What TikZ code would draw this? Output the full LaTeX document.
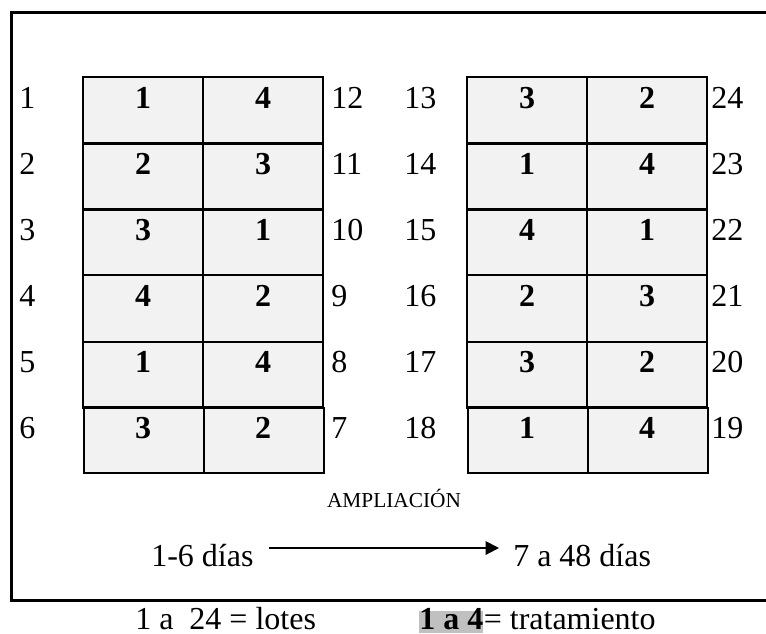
\documentclass[tikz,border=0pt]{standalone}
\usepackage{fontspec}
\setmainfont{Liberation Serif}
\usetikzlibrary{arrows.meta}
\definecolor{celda}{HTML}{F2F2F2}
\definecolor{resalte}{HTML}{C0C0C0}
\newcommand\cifra[1]{{\fontsize{24}{26}\selectfont\bfseries #1}}
\tikzset{
  marco/.style={line width=2.25pt},
  borde/.style={line width=2.1pt},
  bordefino/.style={line width=1.5pt},
  trat/.style={anchor=base, inner sep=0pt},
  lote/.style={font=\fontsize{24}{26}\selectfont, anchor=base west, inner sep=0pt},
  leyenda/.style={font=\fontsize{24}{26}\selectfont, anchor=base west, inner sep=0pt},
  flecha/.style={line width=1.5pt, -{Triangle[length=10pt,width=10pt]}},
}
\begin{document}
\begin{tikzpicture}[x=0.75pt,y=-0.75pt]
\useasboundingbox (0,0) rectangle (766,633);

% outer frame, open on the right
\draw[marco] (766,12) -- (11,12) -- (11,600.5) -- (766,600.5);

% the two plot grids: five rows in a heavy frame, a sixth row below in a lighter one
\foreach \L in {83,467} {
  \fill[celda] ({\L+1},407.7) rectangle ({\L+241},472.7);
  \draw[bordefino] ({\L+1},407.7) rectangle ({\L+241},472.7);
  \draw[bordefino] ({\L+121},407.7) -- ({\L+121},472.7);
  \fill[celda] (\L,77) rectangle ({\L+240},407.7);
  \draw[borde] (\L,77) rectangle ({\L+240},407.7);
  \draw[borde] ({\L+120},77) -- ({\L+120},407.7);
  \foreach \y in {143.3,209.3,275,342} {
    \draw[borde] (\L,\y) -- ({\L+240},\y);
  }
}

% left grid: plot numbers and treatments
\foreach \i/\nd/\ta/\tb in {1/12/1/4, 2/11/2/3, 3/10/3/1, 4/9/4/2, 5/8/1/4, 6/7/3/2} {
  \pgfmathsetmacro\yb{77+(\i-1)*65.95+31.5}
  \node[lote] (lizq-\i) at (19,\yb) {\i};
  \node[lote] (lder-\i) at (331,\yb) {\nd};
  \node[trat] (ta-\i) at (143,\yb) {\cifra{\ta}};
  \node[trat] (tb-\i) at (263,\yb) {\cifra{\tb}};
}

% right grid: plot numbers and treatments
\foreach \i/\ni/\nd/\ta/\tb in {1/13/24/3/2, 2/14/23/1/4, 3/15/22/4/1, 4/16/21/2/3, 5/17/20/3/2, 6/18/19/1/4} {
  \pgfmathsetmacro\yb{77+(\i-1)*65.95+31.5}
  \node[lote] (rizq-\i) at (404,\yb) {\ni};
  \node[lote] (rder-\i) at (711,\yb) {\nd};
  \node[trat] (tc-\i) at (527,\yb) {\cifra{\ta}};
  \node[trat] (td-\i) at (647,\yb) {\cifra{\tb}};
}

\node[font=\fontsize{16}{18}\selectfont, anchor=base, inner sep=0pt] (ampliacion) at (394,507) {AMPLIACIÓN};

% time span
\node[leyenda] (desde) at (151,566.7) {1-6 días};
\node[leyenda] (hasta) at (513,566.7) {7 a 48 días};
\coordinate (ini) at (269,548);
\coordinate (fin) at (499,548);
\draw[flecha] (ini) -- (fin);

% legend under the frame
\node[leyenda] (lotes) at (135,629.5) {1 a\ \ 24 = lotes};
\node[leyenda, fill=resalte, text height=14.25pt, text depth=2.5pt, inner xsep=0pt] (clave) at (419,629.5) {\bfseries 1 a 4};
\node[leyenda] (tratamiento) at (clave.base east) {= tratamiento};
\end{tikzpicture}
\end{document}
